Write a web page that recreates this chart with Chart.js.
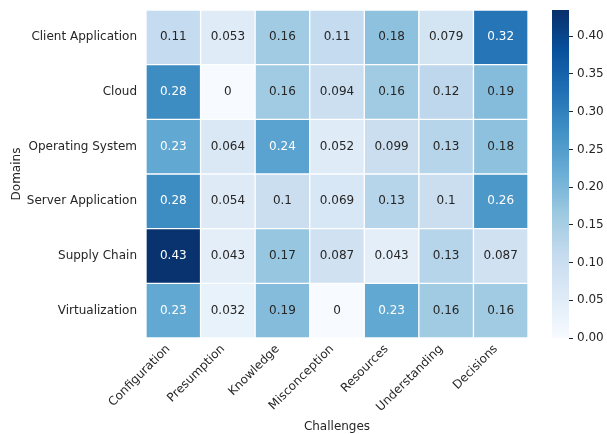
<!DOCTYPE html>
<html><head><meta charset="utf-8">
<script src="https://cdn.jsdelivr.net/npm/chart.js@4/dist/chart.umd.min.js"></script>
<style>
html,body{margin:0;padding:0;background:#fff;}
#wrap{position:relative;width:607px;height:434px;overflow:hidden;}
#heat{position:absolute;left:0;top:0;}
#cbar{position:absolute;left:540px;top:0;}
</style></head><body>
<div id="wrap"><canvas id="heat" width="607" height="434"></canvas><canvas id="cbar" width="67" height="434"></canvas></div>
<script>
// Categories
const challenges = ['Configuration', 'Presumption', 'Knowledge', 'Misconception', 'Resources', 'Understanding', 'Decisions'];
const domains = ['Client Application', 'Cloud', 'Operating System', 'Server Application', 'Supply Chain', 'Virtualization'];

// Share of each challenge within a domain (one array per domain row)
const clientApplication = [0.11, 0.053, 0.16, 0.11, 0.18, 0.079, 0.32];
const cloud             = [0.28, 0, 0.16, 0.094, 0.16, 0.12, 0.19];
const operatingSystem   = [0.23, 0.064, 0.24, 0.052, 0.099, 0.13, 0.18];
const serverApplication = [0.28, 0.054, 0.1, 0.069, 0.13, 0.1, 0.26];
const supplyChain       = [0.43, 0.043, 0.17, 0.087, 0.043, 0.13, 0.087];
const virtualization    = [0.23, 0.032, 0.19, 0, 0.23, 0.16, 0.16];
const domainRows = [clientApplication, cloud, operatingSystem, serverApplication, supplyChain, virtualization];

// Colour scale limits and colorbar tick values
const colorMin = 0;
const colorMax = 0.4348;
const colorbarTicks = [0, 0.05, 0.10, 0.15, 0.20, 0.25, 0.30, 0.35, 0.40];

// "Blues" sequential palette
const BLUES = ['#f7fbff', '#deebf7', '#c6dbef', '#9ecae1', '#6baed6', '#4292c6', '#2171b5', '#08519c', '#08306b'];
const hexRgb = h => [1, 3, 5].map(i => parseInt(h.substr(i, 2), 16));
const BLUES_RGB = BLUES.map(hexRgb);

function bluesRgb(v) {
  let t = (v - colorMin) / (colorMax - colorMin);
  t = Math.max(0, Math.min(1, t));
  const p = t * (BLUES_RGB.length - 1);
  const i = Math.min(Math.floor(p), BLUES_RGB.length - 2);
  const f = p - i;
  return BLUES_RGB[i].map((c, k) => Math.round(c + (BLUES_RGB[i + 1][k] - c) * f));
}
const rgbStr = c => `rgb(${c[0]},${c[1]},${c[2]})`;

function luminance(c) {
  const lin = c.map(x => { x /= 255; return x <= 0.03928 ? x / 12.92 : Math.pow((x + 0.055) / 1.055, 2.4); });
  return 0.2126 * lin[0] + 0.7152 * lin[1] + 0.0722 * lin[2];
}
const fmt = v => String(Number(v.toPrecision(2)));

const TEXT = '#262626';
Chart.defaults.font.family = "'DejaVu Sans', sans-serif";
Chart.defaults.font.size = 12;
Chart.defaults.color = TEXT;

// One floating-bar dataset per domain row: each bar spans [row, row + 1]
const datasets = domainRows.map((vals, r) => ({
  label: domains[r],
  data: vals.map(() => [r, r + 1]),
  values: vals,
  backgroundColor: vals.map(v => rgbStr(bluesRgb(v))),
  borderColor: '#ffffff',
  borderWidth: 1,
  borderSkipped: false,
  barPercentage: 1,
  categoryPercentage: 1,
  grouped: false
}));

// Writes each cell's value in its centre
const cellLabels = {
  id: 'cellLabels',
  afterDatasetsDraw(chart) {
    const ctx = chart.ctx;
    ctx.save();
    ctx.font = "12px 'DejaVu Sans', sans-serif";
    ctx.textAlign = 'center';
    ctx.textBaseline = 'middle';
    chart.data.datasets.forEach((ds, di) => {
      chart.getDatasetMeta(di).data.forEach((el, i) => {
        const v = ds.values[i];
        ctx.fillStyle = luminance(bluesRgb(v)) > 0.408 ? TEXT : '#ffffff';
        ctx.fillText(fmt(v), el.x, (el.y + el.base) / 2);
      });
    });
    ctx.restore();
  }
};

new Chart(document.getElementById('heat'), {
  type: 'bar',
  data: { labels: challenges, datasets },
  plugins: [cellLabels],
  options: {
    responsive: false,
    animation: false,
    layout: { padding: { left: 0, right: 79, top: 10, bottom: 0 } },
    plugins: { legend: { display: false }, tooltip: { enabled: false } },
    scales: {
      x: {
        type: 'category',
        grid: { display: false, drawTicks: false },
        border: { display: false },
        ticks: { autoSkip: false, maxRotation: 45, minRotation: 45, padding: 4, labelOffset: -5 },
        title: { display: true, text: 'Challenges', padding: { top: 0, bottom: 0 } },
        afterFit(scale) { scale.height = 96; scale.paddingLeft = 0; scale.paddingRight = 0; }
      },
      y: {
        type: 'linear',
        min: 0, max: domains.length,
        reverse: true,
        grid: { display: false, drawTicks: false },
        border: { display: false },
        afterBuildTicks(scale) { scale.ticks = domains.map((d, i) => ({ value: i + 0.5 })); },
        ticks: { autoSkip: false, padding: 9, callback: v => domains[Math.floor(v)] },
        title: { display: true, text: 'Domains', padding: { top: 10, bottom: 0 } },
        afterFit(scale) { scale.width = 146; scale.paddingTop = 0; scale.paddingBottom = 0; }
      }
    }
  }
});

// Colorbar: one bar spanning the colour range, filled with the palette gradient
new Chart(document.getElementById('cbar'), {
  type: 'bar',
  data: {
    labels: [''],
    datasets: [{
      data: [[colorMin, colorMax]],
      barPercentage: 1,
      categoryPercentage: 1,
      borderWidth: 0,
      backgroundColor(context) {
        const area = context.chart.chartArea;
        if (!area) return BLUES[4];
        const g = context.chart.ctx.createLinearGradient(0, area.bottom, 0, area.top);
        BLUES.forEach((c, i) => g.addColorStop(i / (BLUES.length - 1), c));
        return g;
      }
    }]
  },
  options: {
    responsive: false,
    animation: false,
    layout: { padding: { left: 12, right: 0, top: 10, bottom: 96 } },
    plugins: { legend: { display: false }, tooltip: { enabled: false } },
    scales: {
      x: { display: false, offset: true },
      y: {
        position: 'right',
        min: colorMin, max: colorMax,
        border: { display: false },
        grid: { drawOnChartArea: false, drawTicks: true, tickLength: 4, tickColor: TEXT, tickWidth: 1 },
        afterBuildTicks(scale) { scale.ticks = colorbarTicks.map(v => ({ value: v })); },
        ticks: { padding: 4, callback: v => v.toFixed(2) },
        afterFit(scale) { scale.width = 38; scale.paddingTop = 0; scale.paddingBottom = 0; }
      }
    }
  }
});
</script>
</body></html>
